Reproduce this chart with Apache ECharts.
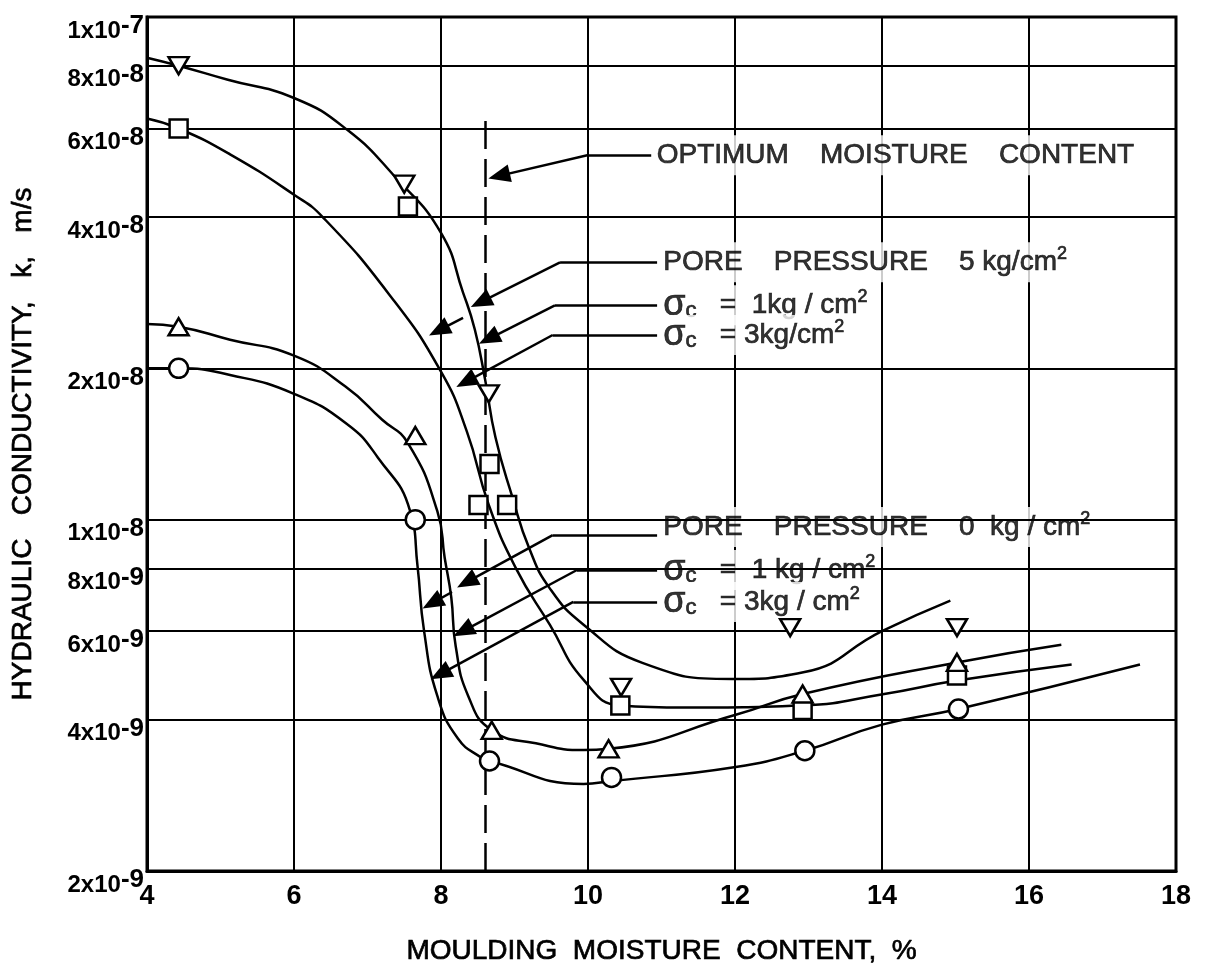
<!DOCTYPE html>
<html>
<head>
<meta charset="utf-8">
<script src="https://cdn.jsdelivr.net/npm/echarts@6/dist/echarts.min.js"></script>
<style>
  html, body { margin: 0; padding: 0; background: #fff; }
  #chart { width: 1208px; height: 976px; }
</style>
</head>
<body>
<div id="chart"></div>
<script>
const FONT = '"Liberation Sans", "DejaVu Sans", Arial, sans-serif';

// Measured permeability points: [moulding moisture content %, k in m/s]
const pp5Sigma1Points = [[4.43, 8.0e-8], [7.5, 4.65e-8], [8.65, 1.78e-8], [10.45, 4.64e-9], [12.75, 6.1e-9], [15.02, 6.1e-9]];
const pp5Sigma3Points = [[4.43, 6.0e-8], [7.55, 4.2e-8], [8.51, 1.07e-8], [8.66, 1.29e-8], [8.9, 1.07e-8], [10.44, 4.27e-9], [12.92, 4.18e-9], [15.02, 4.9e-9]];
const pp0Sigma1Points = [[4.43, 2.42e-8], [7.65, 1.47e-8], [8.69, 3.81e-9], [10.28, 3.5e-9], [12.92, 4.5e-9], [15.02, 5.2e-9]];
const pp0Sigma3Points = [[4.43, 2.0e-8], [7.65, 1.0e-8], [8.66, 3.31e-9], [10.32, 3.07e-9], [12.95, 3.47e-9], [15.04, 4.2e-9]];

// Hand-fitted trend curves through each data set
const pp5Sigma1Curve = [[4.0, 8.3e-8], [4.43, 8.0e-8], [5.1, 7.5e-8], [6.0, 6.9e-8], [6.72, 5.97e-8], [7.38, 4.8e-8], [8.0, 3.72e-8], [8.3, 2.83e-8], [8.46, 2.39e-8], [8.6, 1.9e-8], [8.74, 1.46e-8], [8.97, 1.11e-8], [9.2, 8.77e-9], [9.48, 7.3e-9], [9.94, 6.18e-9], [10.74, 5.19e-9], [11.95, 4.82e-9], [12.93, 4.97e-9], [14.0, 6.0e-9], [14.93, 6.9e-9]];
const pp5Sigma3Curve = [[4.0, 6.28e-8], [4.43, 6.0e-8], [5.13, 5.33e-8], [6.0, 4.43e-8], [6.39, 4.0e-8], [7.3, 2.8e-8], [8.0, 1.97e-8], [8.35, 1.5e-8], [8.65, 1.07e-8], [9.02, 8.0e-9], [9.48, 6.18e-9], [9.94, 4.8e-9], [10.44, 4.27e-9], [11.3, 4.23e-9], [12.92, 4.27e-9], [14.03, 4.5e-9], [15.0, 4.78e-9], [16.58, 5.15e-9]];
const pp0Sigma1Curve = [[4.0, 2.45e-8], [4.43, 2.42e-8], [5.13, 2.28e-8], [6.0, 2.12e-8], [6.7, 1.84e-8], [7.2, 1.58e-8], [7.55, 1.42e-8], [7.95, 1.04e-8], [8.05, 8.4e-9], [8.14, 7.0e-9], [8.2, 5.6e-9], [8.37, 4.46e-9], [8.69, 3.81e-9], [9.29, 3.59e-9], [9.94, 3.48e-9], [10.28, 3.5e-9], [12.01, 4.09e-9], [12.92, 4.5e-9], [15.02, 5.2e-9], [16.44, 5.64e-9]];
const pp0Sigma3Curve = [[4.0, 2.0e-8], [4.43, 2.0e-8], [5.13, 1.94e-8], [6.0, 1.78e-8], [6.72, 1.55e-8], [7.14, 1.33e-8], [7.58, 1.04e-8], [7.68, 8.1e-9], [7.77, 6.0e-9], [7.95, 4.46e-9], [8.23, 3.67e-9], [8.55, 3.36e-9], [8.66, 3.31e-9], [9.94, 2.98e-9], [10.32, 3.02e-9], [12.01, 3.22e-9], [12.95, 3.47e-9], [14.0, 3.91e-9], [15.04, 4.2e-9], [17.51, 5.15e-9]];

// Log-scale grid values and their printed labels
const yTickValues = [2e-9, 4e-9, 6e-9, 8e-9, 1e-8, 2e-8, 4e-8, 6e-8, 8e-8, 1e-7];
const yTickMantissas = ['2x10', '4x10', '6x10', '8x10', '1x10', '2x10', '4x10', '6x10', '8x10', '1x10'];
const yTickExponents = ['-9', '-9', '-9', '-9', '-8', '-8', '-8', '-8', '-8', '-7'];

const xMin = 4, xMax = 18, xStep = 2;
const yMin = 2e-9, yMax = 1e-7;

// Optimum moisture content (dashed vertical)
const optimumMoisture = 8.6;
const optimumLineTop = 6.3e-8;

// Annotation texts (rich-text markup) and where they sit, in data coordinates
const noteTexts = [
  '{t|OPTIMUM    MOISTURE    CONTENT}',
  '{t|PORE    PRESSURE    5 kg/cm}{sup|2}',
  '{sig|σ}{sub|c}{t|   =  1kg / cm}{sup|2}',
  '{sig|σ}{sub|c}{t|   = 3kg/cm}{sup|2}',
  '{t|PORE    PRESSURE    0  kg / cm}{sup|2}',
  '{sig|σ}{sub|c}{t|   =  1 kg / cm}{sup|2}',
  '{sig|σ}{sub|c}{t|   = 3kg / cm}{sup|2}'
];
const noteAnchors = [
  [10.88, 5.31e-8], [10.97, 3.25e-8], [10.97, 2.67e-8], [10.97, 2.33e-8],
  [10.97, 9.67e-9], [10.97, 7.94e-9], [10.97, 6.86e-9]
];

// Leader lines: plain segments and arrow-tipped segments
const leaderSegments = [
  [[10.86, 5.31e-8], [9.99, 5.31e-8]],
  [[10.94, 3.25e-8], [9.62, 3.25e-8]],
  [[10.94, 2.67e-8], [9.55, 2.67e-8]],
  [[10.94, 2.33e-8], [9.52, 2.33e-8]],
  [[10.94, 9.32e-9], [9.52, 9.32e-9]],
  [[10.94, 7.94e-9], [9.85, 7.94e-9]],
  [[10.94, 6.86e-9], [9.80, 6.86e-9]]
];
const arrowSegments = [
  [[9.99, 5.31e-8], [8.79, 4.83e-8]],
  [[9.62, 3.25e-8], [8.54, 2.71e-8]],
  [[8.30, 2.52e-8], [7.97, 2.38e-8]],
  [[9.55, 2.67e-8], [8.65, 2.29e-8]],
  [[9.52, 2.33e-8], [8.34, 1.88e-8]],
  [[9.52, 9.32e-9], [8.35, 7.51e-9]],
  [[8.15, 7.18e-9], [7.88, 6.82e-9]],
  [[9.85, 7.94e-9], [8.30, 6.0e-9]],
  [[9.80, 6.86e-9], [7.99, 4.93e-9]]
];

const ink = '#000';

function curveSeries(data) {
  return {
    type: 'line', data, smooth: 0.5, showSymbol: false,
    symbol: 'none', z: 3, silent: true,
    lineStyle: { color: ink, width: 2.5 }
  };
}
function pointSeries(data, symbol, size, rotate) {
  return {
    type: 'scatter', data, symbol, symbolSize: size, symbolRotate: rotate || 0, z: 5,
    itemStyle: { color: '#fff', borderColor: ink, borderWidth: 2.5, opacity: 1 }
  };
}

// slightly heavier strokes for the lettering
const heavy = { textBorderColor: ink, textBorderWidth: 0.7 };

const noteRich = {
  t: Object.assign({ fontFamily: FONT, fontSize: 28, color: ink, lineHeight: 34 }, heavy),
  sup: Object.assign({ fontFamily: FONT, fontSize: 18, color: ink, lineHeight: 18, verticalAlign: 'top' }, heavy),
  sig: Object.assign({ fontFamily: FONT, fontSize: 36, color: ink, lineHeight: 34 }, heavy),
  sub: Object.assign({ fontFamily: FONT, fontSize: 22, color: ink, lineHeight: 22, verticalAlign: 'bottom' }, heavy)
};

const tickRich = {
  m: { fontFamily: FONT, fontSize: 24, fontWeight: 'bold', color: ink, lineHeight: 24, padding: [12, 0, 0, 0] },
  e: { fontFamily: FONT, fontSize: 26, fontWeight: 'bold', color: ink, lineHeight: 24, verticalAlign: 'top' }
};

const option = {
  animation: false,
  backgroundColor: '#fff',
  grid: { left: 147, right: 32, top: 17, bottom: 105, show: true, borderColor: ink, borderWidth: 3, backgroundColor: 'transparent' },
  xAxis: {
    type: 'value', min: xMin, max: xMax, interval: xStep,
    name: 'MOULDING  MOISTURE  CONTENT,  %', nameLocation: 'middle', nameGap: 66,
    nameTextStyle: Object.assign({ fontFamily: FONT, fontSize: 28, color: ink }, heavy),
    axisLine: { show: true, lineStyle: { color: ink, width: 3 } },
    axisTick: { show: false },
    axisLabel: { fontFamily: FONT, fontSize: 27, fontWeight: 'bold', color: ink, margin: 12 },
    splitLine: { show: true, lineStyle: { color: ink, width: 2 } }
  },
  yAxis: {
    type: 'log', logBase: 10, min: yMin, max: yMax,
    name: 'HYDRAULIC   CONDUCTIVITY,   k,   m/s', nameLocation: 'middle', nameGap: 110, nameRotate: 90,
    nameTextStyle: Object.assign({ fontFamily: FONT, fontSize: 28, color: ink }, heavy),
    axisLine: { show: true, lineStyle: { color: ink, width: 3 } },
    axisTick: { show: false },
    axisLabel: { show: false },
    splitLine: { show: false }
  },
  series: [
    // horizontal grid lines with their labels
    {
      type: 'line', data: [], z: 1, silent: true,
      markLine: {
        silent: true, symbol: ['none', 'none'], animation: false,
        lineStyle: { color: ink, width: 2, type: 'solid' },
        label: { show: true, position: 'start', distance: 3, color: ink, padding: [16, 0, 0, 0], rich: tickRich },
        emphasis: { disabled: true },
        data: yTickValues.map((v, i) => [
          {
            coord: [xMin, v],
            label: { formatter: '{m|' + yTickMantissas[i] + '}{e|' + yTickExponents[i] + '}' }
          },
          { coord: [xMax, v] }
        ])
      }
    },
    // annotation texts
    {
      type: 'scatter', symbolSize: 0, z: 2, silent: true,
      data: noteAnchors.map((p, i) => ({
        value: p,
        label: {
          show: true, position: 'right', distance: 0, formatter: noteTexts[i], color: ink,
          backgroundColor: '#fff', padding: [3, 4, 3, 4], rich: noteRich
        }
      }))
    },
    // optimum line and leader lines
    {
      type: 'line', data: [], z: 3, silent: true,
      markLine: {
        silent: true, animation: false,
        symbol: ['none', 'none'],
        lineStyle: { color: ink, width: 2.5, type: 'solid' },
        label: { show: false },
        emphasis: { disabled: true },
        data: [
          [{ coord: [optimumMoisture, yMin], lineStyle: { type: [28, 10], width: 2.5, color: ink } },
           { coord: [optimumMoisture, optimumLineTop] }]
        ].concat(
          leaderSegments.map(s => [{ coord: s[0] }, { coord: s[1] }]),
          arrowSegments.map(s => [
            { coord: s[0], symbol: 'none' },
            { coord: s[1], symbol: 'triangle', symbolSize: [18, 22] }
          ])
        )
      }
    },
    curveSeries(pp5Sigma1Curve),
    curveSeries(pp5Sigma3Curve),
    curveSeries(pp0Sigma1Curve),
    curveSeries(pp0Sigma3Curve),
    pointSeries(pp5Sigma1Points, 'triangle', [20, 17], 180),
    pointSeries(pp5Sigma3Points, 'rect', 18),
    pointSeries(pp0Sigma1Points, 'triangle', [20, 17]),
    pointSeries(pp0Sigma3Points, 'circle', 19)
  ]
};

const chart = echarts.init(document.getElementById('chart'));
chart.setOption(option);
</script>
</body>
</html>
